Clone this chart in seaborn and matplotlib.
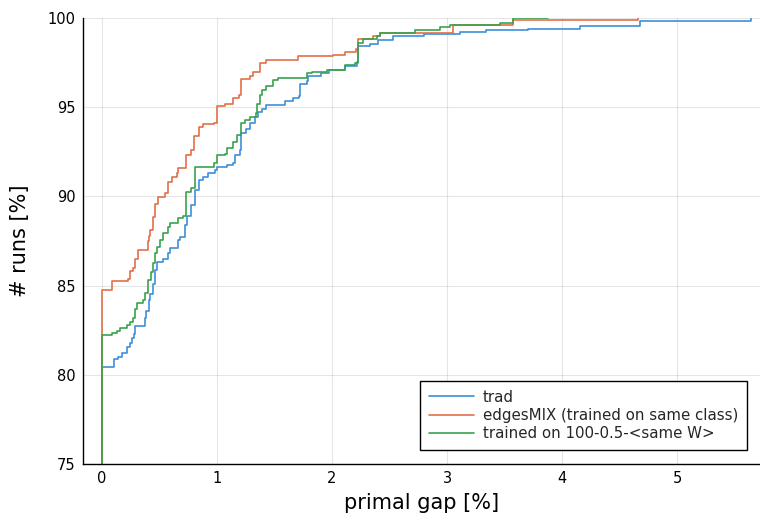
import matplotlib
matplotlib.use("Agg")
import matplotlib.pyplot as plt
import numpy as np
import pandas as pd
import seaborn as sns

# Cumulative share of runs (%) reaching a given primal gap (%), stored as step vertices
trad_x = [0.00, 0.00, 0.10, 0.14, 0.17, 0.22, 0.24, 0.26, 0.28, 0.29, 0.37, 0.38, 0.41, 0.42,
          0.44, 0.46, 0.48, 0.53, 0.57, 0.59, 0.66, 0.68, 0.72, 0.74, 0.77, 0.81, 0.84, 0.88,
          0.92, 0.98, 1.00, 1.09, 1.14, 1.16, 1.20, 1.21, 1.25, 1.29, 1.33, 1.36, 1.39, 1.43,
          1.59, 1.66, 1.71, 1.72, 1.78, 1.79, 1.90, 1.97, 2.11, 2.22, 2.23, 2.33, 2.40, 2.53,
          2.80, 3.11, 3.34, 3.70, 4.16, 4.68, 5.64]
trad_y = [75.0, 80.45, 80.9, 81.0, 81.2, 81.55, 81.8, 82.05, 82.3, 82.75, 83.2, 83.6, 84.2, 84.55,
          85.1, 85.85, 86.3, 86.5, 86.8, 87.1, 87.55, 87.7, 88.4, 88.9, 89.5, 90.35, 90.9, 91.1,
          91.3, 91.5, 91.65, 91.75, 91.9, 92.3, 92.6, 93.55, 93.8, 94.1, 94.45, 94.75, 94.9, 95.1,
          95.35, 95.5, 95.6, 96.3, 96.45, 96.75, 96.9, 97.1, 97.3, 97.55, 98.45, 98.55, 98.75, 99.0,
          99.1, 99.2, 99.3, 99.4, 99.55, 99.84, 100.0]

edges_x = [0.00, 0.00, 0.09, 0.23, 0.24, 0.27, 0.29, 0.31, 0.40, 0.41, 0.42, 0.44, 0.46, 0.49,
           0.55, 0.57, 0.61, 0.65, 0.66, 0.73, 0.77, 0.80, 0.84, 0.88, 0.97, 1.00, 1.07, 1.14,
           1.19, 1.21, 1.29, 1.31, 1.37, 1.43, 1.70, 2.01, 2.11, 2.21, 2.23, 2.36, 2.42, 3.05,
           3.57, 4.66]
edges_y = [75.0, 84.75, 85.25, 85.35, 85.8, 86.0, 86.5, 87.0, 87.5, 87.8, 88.1, 88.85, 89.6, 89.97,
           90.2, 90.8, 91.1, 91.3, 91.6, 92.3, 92.6, 93.4, 93.9, 94.05, 94.1, 95.05, 95.2, 95.5,
           95.7, 96.6, 96.75, 97.0, 97.5, 97.65, 97.87, 97.93, 98.1, 98.26, 98.8, 98.99, 99.15, 99.6,
           99.88, 100.0]

same_w_x = [0.00, 0.00, 0.09, 0.13, 0.16, 0.22, 0.24, 0.27, 0.29, 0.30, 0.36, 0.37, 0.40, 0.43,
            0.44, 0.46, 0.48, 0.50, 0.53, 0.57, 0.59, 0.66, 0.70, 0.73, 0.77, 0.81, 0.97, 1.00,
            1.07, 1.09, 1.14, 1.17, 1.21, 1.24, 1.29, 1.34, 1.35, 1.37, 1.39, 1.43, 1.49, 1.53,
            1.78, 1.83, 1.96, 2.11, 2.20, 2.23, 2.27, 2.39, 2.42, 2.72, 2.94, 3.03, 3.46, 3.57,
            3.88]
same_w_y = [75.0, 82.25, 82.35, 82.45, 82.6, 82.8, 82.95, 83.2, 83.7, 84.05, 84.2, 84.6, 85.3, 85.75,
            86.25, 86.8, 87.15, 87.55, 87.95, 88.3, 88.5, 88.8, 88.9, 90.25, 90.45, 91.65, 91.85, 92.3,
            92.4, 92.7, 93.05, 93.45, 94.1, 94.3, 94.45, 94.7, 95.2, 95.7, 95.95, 96.2, 96.5, 96.62,
            96.9, 97.0, 97.1, 97.35, 97.5, 98.6, 98.8, 99.0, 99.15, 99.35, 99.5, 99.62, 99.72, 100.0,
            100.0]

labels = ["trad", "edgesMIX (trained on same class)", "trained on 100-0.5-<same W>"]
colors = ["#3d8fd8", "#e2704a", "#3aa24b"]

frames = []
for lab, xs, ys in zip(labels, [trad_x, edges_x, same_w_x], [trad_y, edges_y, same_w_y]):
    frames.append(pd.DataFrame({"gap": xs, "runs": ys, "method": lab}))
df = pd.concat(frames, ignore_index=True)

sns.set_theme(style="white")
plt.rcParams["font.family"] = ["DejaVu Sans"]

fig = plt.figure(figsize=(7.6, 5.18), dpi=100)
ax = fig.add_axes([82.7 / 760, 54 / 518, (760 - 82.7) / 760, 446 / 518])

sns.lineplot(data=df, x="gap", y="runs", hue="method", hue_order=labels,
             palette=colors, estimator=None, sort=True, drawstyle="steps-post",
             linewidth=1.2, ax=ax, legend=False)

ax.set_xlim(-0.168, (760 - 102) / 115)
ax.set_ylim(75, 100)
ax.set_xticks([0, 1, 2, 3, 4, 5])
ax.set_yticks([75, 80, 85, 90, 95, 100])

ax.grid(True, color="black", alpha=0.1, linewidth=0.8)
ax.set_axisbelow(True)
for side in ["top", "right"]:
    ax.spines[side].set_visible(False)
for side in ["left", "bottom"]:
    ax.spines[side].set_color("black")
    ax.spines[side].set_linewidth(1.0)
ax.tick_params(axis="both", direction="in", length=5, width=1, colors="black",
               labelsize=10.5, pad=5, labelcolor="black")

ax.set_xlabel("primal gap [%]", fontsize=15, color="black", labelpad=5)
ax.set_ylabel("# runs [%]", fontsize=15, color="black", labelpad=13)

handles = [plt.Line2D([], [], color=c, linewidth=1.2) for c in colors]
leg = ax.legend(handles, labels, loc="lower right", bbox_to_anchor=(0.981, 0.031),
                borderaxespad=0, fontsize=10.8, frameon=True, fancybox=False,
                framealpha=1, edgecolor="black", handlelength=3.0, handletextpad=0.6,
                labelspacing=0.22, borderpad=0.6)
leg.get_frame().set_linewidth(1.0)

fig.savefig("out.png", dpi=100)
